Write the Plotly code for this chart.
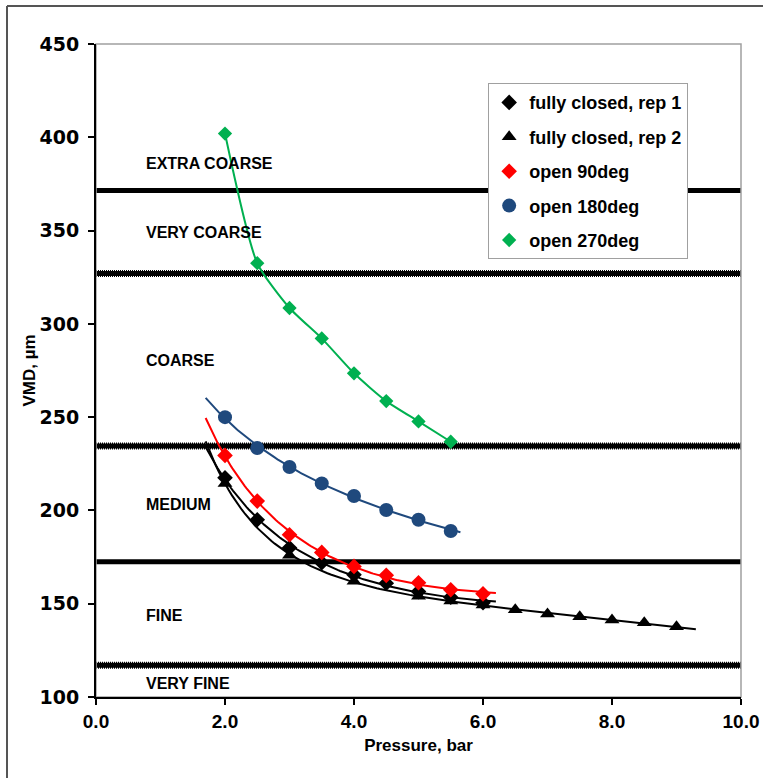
import numpy as np
import plotly.graph_objects as go

# ---------------- data ----------------
rep1_x = [2.0, 2.5, 3.0, 3.5, 4.0, 4.5, 5.0, 5.5, 6.0]
rep1_y = [217.5, 195.0, 180.0, 172.0, 165.5, 161.0, 156.5, 153.5, 150.5]

rep2_x = [2.0, 3.0, 4.0, 5.0, 5.5, 6.0, 6.5, 7.0, 7.5, 8.0, 8.5, 9.0]
rep2_y = [214.5, 176.0, 162.0, 154.0, 151.5, 149.3, 146.8, 144.5, 143.0, 141.3, 139.8, 137.7]

open90_x = [2.0, 2.5, 3.0, 3.5, 4.0, 4.5, 5.0, 5.5, 6.0]
open90_y = [229.5, 205.0, 187.0, 177.5, 170.0, 165.2, 161.2, 157.5, 155.3]

open180_x = [2.0, 2.5, 3.0, 3.5, 4.0, 4.5, 5.0, 5.5]
open180_y = [250.0, 233.5, 223.3, 214.5, 207.7, 200.2, 195.0, 189.0]

open270_x = [2.0, 2.5, 3.0, 3.5, 4.0, 4.5, 5.0, 5.5]
open270_y = [402.0, 332.5, 308.5, 292.2, 273.5, 258.6, 247.7, 236.8]

series_names = ["fully closed, rep 1", "fully closed, rep 2", "open 90deg",
                "open 180deg", "open 270deg"]

class_limits = [371.5, 327.0, 234.5, 172.5, 117.0]
class_limit_dotted = [False, True, True, False, True]
class_names = ["EXTRA COARSE", "VERY COARSE", "COARSE", "MEDIUM", "FINE", "VERY FINE"]
class_label_y = [386.0, 349.0, 280.5, 203.0, 143.5, 107.5]

x_ticks = [0, 2, 4, 6, 8, 10]
y_ticks = [100, 150, 200, 250, 300, 350, 400, 450]

# ---------------- styling ----------------
BLACK = "#000000"
RED = "#FF0000"
BLUE = "#1F497D"
GREEN = "#00B050"
FONT = "Liberation Sans, Arial, sans-serif"

fig = go.Figure()


def trend(xs, ys, x0, x1, deg):
    """least-squares polynomial trend in ln(x) fitted to the data"""
    lx = np.log(np.asarray(xs, float))
    coef = np.polyfit(lx, np.asarray(ys, float), deg)
    xt = np.linspace(x0, x1, 150)
    return xt, np.polyval(coef, np.log(xt))


# trend lines (fitted to the data)
for xs, ys, x0, x1, deg, col in [
    (rep1_x, rep1_y, 1.7, 6.2, 2, BLACK),
    (rep2_x, rep2_y, 1.7, 9.3, 3, BLACK),
    (open90_x, open90_y, 1.7, 6.2, 2, RED),
    (open180_x, open180_y, 1.7, 5.65, 2, BLUE),
]:
    xt, yt = trend(xs, ys, x0, x1, deg)
    fig.add_trace(go.Scatter(x=xt, y=yt, mode="lines", line=dict(color=col, width=2),
                             showlegend=False, hoverinfo="skip"))

# smoothed line through the 270deg points
fig.add_trace(go.Scatter(x=open270_x, y=open270_y, mode="lines",
                         line=dict(color=GREEN, width=2, shape="spline", smoothing=0.6),
                         showlegend=False, hoverinfo="skip"))

# markers
marker_specs = [
    (rep1_x, rep1_y, dict(symbol="diamond", size=12, color=BLACK)),
    (rep2_x, rep2_y, dict(symbol="triangle-up", size=13, color=BLACK)),
    (open90_x, open90_y, dict(symbol="diamond", size=12, color=RED)),
    (open180_x, open180_y, dict(symbol="circle", size=14, color=BLUE)),
    (open270_x, open270_y, dict(symbol="diamond", size=11, color=GREEN)),
]
for i, (xs, ys, mk) in enumerate(marker_specs):
    fig.add_trace(go.Scatter(x=xs, y=ys, mode="markers", marker=mk,
                             name=series_names[i], legendgroup=f"g{i}"))

shapes = []
# class boundaries
for yv, dotted in zip(class_limits, class_limit_dotted):
    if dotted:
        shapes.append(dict(type="line", xref="paper", yref="y", x0=0, x1=1, y0=yv, y1=yv,
                           line=dict(color=BLACK, width=7, dash="1px,1px"), layer="below"))
    shapes.append(dict(type="line", xref="paper", yref="y", x0=0, x1=1, y0=yv, y1=yv,
                       line=dict(color=BLACK, width=5), layer="below"))
# plot area frame (grey)
shapes.append(dict(type="rect", xref="paper", yref="paper", x0=0, x1=1, y0=0, y1=1,
                   line=dict(color="#A0A0A0", width=1.5), layer="below"))
# outer chart frame (left and top edges)
PW, PH = 763 - 96 - 22, 778 - 44 - 81
fx = (7 - 96) / PW
fy = (697 - 6) / PH
shapes.append(dict(type="line", xref="paper", yref="paper", x0=fx, x1=1.1,
                   y0=fy, y1=fy, line=dict(color="#555555", width=2)))
shapes.append(dict(type="line", xref="paper", yref="paper", x0=fx, x1=fx,
                   y0=fy, y1=-0.2, line=dict(color="#555555", width=2)))

annotations = []
for name, yv in zip(class_names, class_label_y):
    annotations.append(dict(x=0.74, y=yv, xref="x", yref="y", text=name, showarrow=False,
                            xanchor="left", yanchor="middle",
                            font=dict(family=FONT, size=16, color=BLACK, weight="bold")))

fig.update_layout(
    width=763, height=778,
    margin=dict(l=96, r=22, t=44, b=81),
    paper_bgcolor="white", plot_bgcolor="white",
    shapes=shapes, annotations=annotations,
    font=dict(family=FONT, color=BLACK),
    legend=dict(x=0.608, y=0.94, xanchor="left", yanchor="top",
                bgcolor="white", bordercolor="#A0A0A0", borderwidth=1,
                font=dict(family=FONT, size=18, color=BLACK, weight="bold"),
                tracegroupgap=8, traceorder="grouped"),
    xaxis=dict(range=[0, 10], tickvals=x_ticks, tickformat=".1f", showgrid=False,
               zeroline=False, showline=True, linecolor=BLACK, linewidth=2,
               automargin=False,
               ticks="outside", ticklen=6, tickwidth=2, tickcolor=BLACK,
               tickfont=dict(family=FONT, size=19, weight="bold"),
               title=dict(text="Pressure, bar", standoff=8,
                          font=dict(family=FONT, size=17, weight="bold"))),
    yaxis=dict(range=[100, 450], tickvals=y_ticks, showgrid=False, zeroline=False,
               showline=True, linecolor=BLACK, linewidth=2,
               automargin=False,
               ticks="outside", ticklen=6, tickwidth=2, tickcolor=BLACK,
               ticklabelstandoff=5,
               tickfont=dict(family="DejaVu Sans, sans-serif", size=19, weight="bold"),
               title=dict(text="VMD, µm", standoff=0,
                          font=dict(family=FONT, size=17, weight="bold"))),
)

fig.write_html("out.html", config={"displayModeBar": False},
               post_script="document.body.style.margin='0';")
